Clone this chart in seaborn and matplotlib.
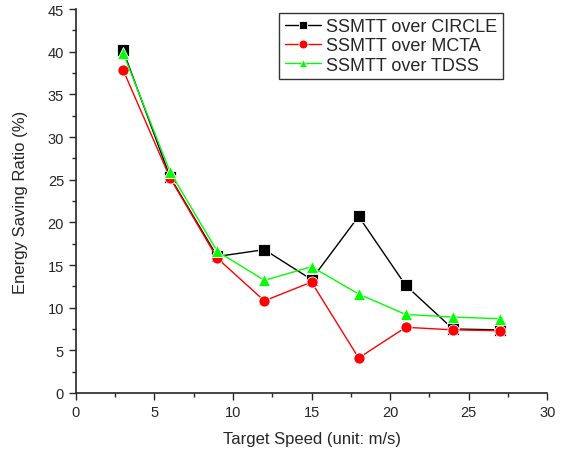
import numpy as np
import pandas as pd
import matplotlib
matplotlib.use('Agg')
import matplotlib.pyplot as plt
import seaborn as sns
from matplotlib.ticker import MultipleLocator

# 数据
speed = [3, 6, 9, 12, 15, 18, 21, 24, 27]
circle = [40.2, 25.3, 16.0, 16.8, 13.3, 20.7, 12.6, 7.5, 7.4]
mcta = [37.9, 25.2, 15.8, 10.8, 13.0, 4.1, 7.7, 7.4, 7.3]
tdss = [39.9, 25.9, 16.6, 13.2, 14.8, 11.6, 9.2, 8.9, 8.7]
series_names = ['SSMTT over CIRCLE', 'SSMTT over MCTA', 'SSMTT over TDSS']

df = pd.DataFrame({
    'speed': speed * 3,
    'ratio': circle + mcta + tdss,
    'series': [n for n in series_names for _ in speed],
})

sns.set_style('ticks')
plt.rcParams['font.family'] = ['Liberation Sans', 'DejaVu Sans']

fig = plt.figure(figsize=(5.7, 4.56), dpi=100)
ax = fig.add_axes([0.133, 0.136, 0.827, 0.842])

palette = {series_names[0]: '#000000', series_names[1]: '#ff0000', series_names[2]: '#00ff00'}
markers = {series_names[0]: 's', series_names[1]: 'o', series_names[2]: '^'}
sns.lineplot(data=df, x='speed', y='ratio', hue='series', style='series',
             palette=palette, markers=markers, dashes=False, ax=ax,
             linewidth=1, markersize=8, markeredgewidth=0.6,
             markeredgecolor='white')

ax.set_xlim(0, 30)
ax.set_ylim(0, 45)
ax.xaxis.set_major_locator(MultipleLocator(5))
ax.xaxis.set_minor_locator(MultipleLocator(2.5))
ax.yaxis.set_major_locator(MultipleLocator(5))
ax.yaxis.set_minor_locator(MultipleLocator(2.5))
ax.tick_params(which='major', direction='out', length=5, width=1, labelsize=10.5)
ax.tick_params(which='minor', direction='out', length=3, width=1)
for s in ['top', 'right']:
    ax.spines[s].set_visible(False)
for s in ['left', 'bottom']:
    ax.spines[s].set_linewidth(1.2)

ax.set_xlabel('Target Speed (unit: m/s)', fontsize=12, labelpad=9)
ax.set_ylabel('Energy Saving Ratio (%)', fontsize=12, labelpad=14)

leg = ax.legend(loc='upper right', bbox_to_anchor=(0.906, 0.99), fontsize=13,
                frameon=True, fancybox=False, edgecolor='black',
                handlelength=2.0, handletextpad=0.3, borderpad=0.3,
                labelspacing=0.12, borderaxespad=0, markerscale=0.8)
leg.get_frame().set_linewidth(1)
leg.set_title(None)

fig.savefig('out.png', dpi=100)
